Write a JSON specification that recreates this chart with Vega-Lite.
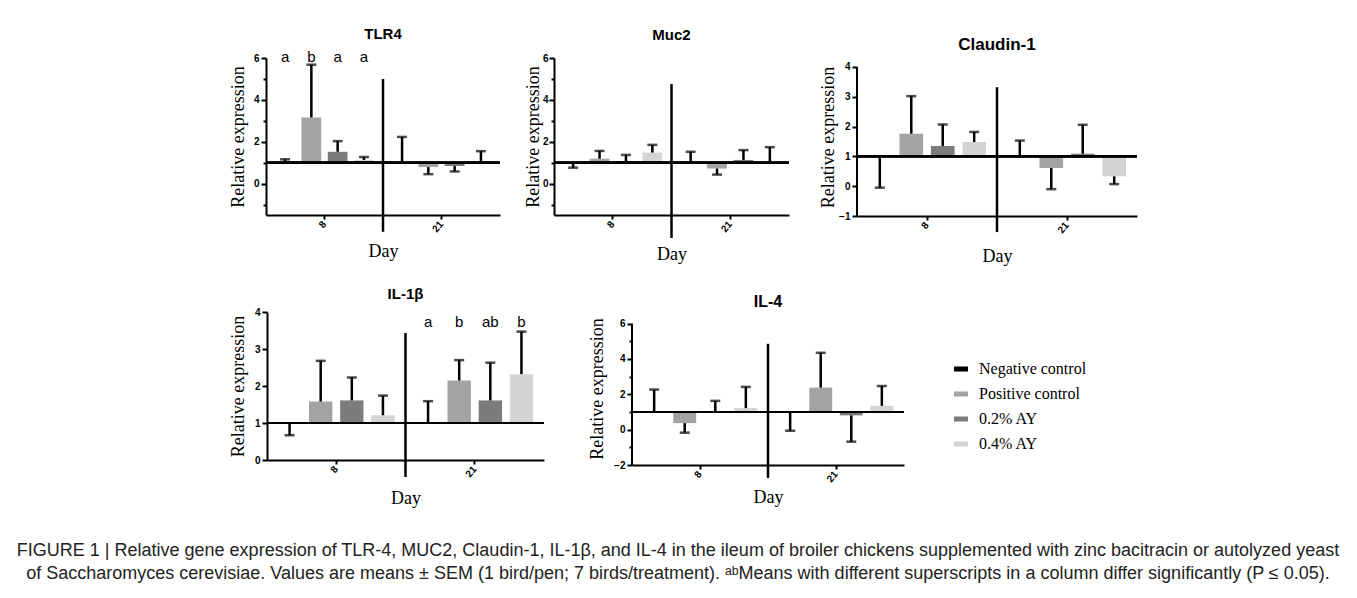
{
  "$schema": "https://vega.github.io/schema/vega-lite/v6.json",
  "background": "white",
  "padding": {"left": 10, "top": 27, "right": 5, "bottom": 2},
  "spacing": 32,
  "resolve": {"scale": {"xOffset": "independent", "y": "independent", "x": "independent"}},
  "vconcat": [
    {
      "spacing": 22,
      "resolve": {"scale": {"xOffset": "independent", "y": "independent", "x": "independent"}},
      "vconcat": [
        {
          "spacing": 22,
          "resolve": {"scale": {"xOffset": "independent", "y": "independent", "x": "independent"}},
          "hconcat": [
            {"width": 196, "height": 10, "data": {"values": []}, "mark": "point"},
            {
              "width": 234, "height": 157,
              "title": {"text": "TLR4", "fontSize": 15, "offset": 8},
              "data": {"values": [
                {"day": "8", "trt": "Negative control", "m": 1.0, "e": 1.16},
                {"day": "8", "trt": "Positive control", "m": 3.16, "e": 5.68},
                {"day": "8", "trt": "0.2% AY", "m": 1.52, "e": 2.03},
                {"day": "8", "trt": "0.4% AY", "m": 1.13, "e": 1.27},
                {"day": "21", "trt": "Negative control", "m": 1.0, "e": 2.23},
                {"day": "21", "trt": "Positive control", "m": 0.79, "e": 0.45},
                {"day": "21", "trt": "0.2% AY", "m": 0.84, "e": 0.58},
                {"day": "21", "trt": "0.4% AY", "m": 1.06, "e": 1.55}
              ]},
              "layer": [
                {
                  "mark": {"type": "bar"},
                  "encoding": {
                    "x": {"field": "day", "type": "nominal", "scale": {"domain": ["8", "21"], "paddingInner": 0, "paddingOuter": 0},
                      "axis": {"title": "Day", "labelAngle": -50, "tickSize": 4, "labelPadding": 3, "titleY": 36, "titleBaseline": "middle"}},
                    "xOffset": {"field": "trt", "type": "nominal", "scale": {"domain": ["Negative control", "Positive control", "0.2% AY", "0.4% AY"], "paddingInner": 0.25, "paddingOuter": 0.35}},
                    "y": {"field": "m", "type": "quantitative", "scale": {"domain": [-1.5, 6], "nice": false, "zero": false},
                      "axis": {"title": "Relative expression", "values": [-1, 0, 1, 2, 3, 4, 5, 6], "tickCount": 20, "format": "d", "labelExpr": "datum.value % 2 === 0 ? datum.label : ''", "labelOverlap": false,
                        "tickSize": {"condition": {"test": "datum.value % 2 === 0", "value": 5}, "value": 3},
                        "titleX": -28, "titleAngle": 270, "titleBaseline": "middle", "titleAlign": "center", "labelPadding": 2}},
                    "y2": {"datum": 1},
                    "color": {"field": "trt", "type": "nominal", "scale": {"domain": ["Negative control", "Positive control", "0.2% AY", "0.4% AY"], "range": ["#000000", "#a3a3a6", "#7c7c7e", "#d4d4d4"]},
                      "legend": {"orient": "none", "legendX": 943, "legendY": 303, "title": null, "symbolType": "M-1,-0.36H1V0.36H-1Z", "symbolSize": 196, "symbolStrokeWidth": 0, "labelFont": "Liberation Serif", "labelFontSize": 16, "labelColor": "#000", "rowPadding": 9, "labelOffset": 10, "padding": 0}}
                  }
                },
                {
                  "mark": {"type": "rule", "strokeWidth": 2.5, "color": "#000"},
                  "encoding": {
                    "x": {"field": "day", "type": "nominal"},
                    "xOffset": {"field": "trt", "type": "nominal"},
                    "y": {"field": "m", "type": "quantitative"},
                    "y2": {"field": "e"}
                  }
                },
                {
                  "mark": {"type": "tick", "orient": "horizontal", "size": 10, "thickness": 2.5, "color": "#000"},
                  "encoding": {
                    "x": {"field": "day", "type": "nominal"},
                    "xOffset": {"field": "trt", "type": "nominal"},
                    "y": {"field": "e", "type": "quantitative"}
                  }
                },
                {
                  "mark": {"type": "rule", "strokeWidth": 1.8, "color": "#000"},
                  "encoding": {"y": {"datum": 1, "type": "quantitative"}}
                },
                {
                  "data": {"values": [{"day": "21", "top": 5.0, "bot": -2.3}]},
                  "mark": {"type": "rule", "strokeWidth": 2.5, "color": "#000"},
                  "encoding": {
                    "x": {"field": "day", "type": "nominal", "bandPosition": 0},
                    "y": {"field": "top", "type": "quantitative"},
                    "y2": {"field": "bot"}
                  }
                },
                {
                  "data": {"values": [
                    {"day": "8", "trt": "Negative control", "lt": "a"},
                    {"day": "8", "trt": "Positive control", "lt": "b"},
                    {"day": "8", "trt": "0.2% AY", "lt": "a"},
                    {"day": "8", "trt": "0.4% AY", "lt": "a"}
                  ]},
                  "mark": {"type": "text", "font": "Liberation Sans", "fontSize": 15, "color": "#000", "baseline": "middle"},
                  "encoding": {
                    "x": {"field": "day", "type": "nominal"},
                    "xOffset": {"field": "trt", "type": "nominal"},
                    "y": {"datum": 6.03, "type": "quantitative"},
                    "text": {"field": "lt"}
                  }
                }
              ]
            },
            {
              "spacing": 28,
              "resolve": {"scale": {"xOffset": "independent", "y": "independent", "x": "independent"}},
              "hconcat": [
                {
                  "width": 235, "height": 157,
                  "title": {"text": "Muc2", "fontSize": 15, "offset": 10},
                  "data": {"values": [
                    {"day": "8", "trt": "Negative control", "m": 0.99, "e": 0.76},
                    {"day": "8", "trt": "Positive control", "m": 1.19, "e": 1.56},
                    {"day": "8", "trt": "0.2% AY", "m": 1.08, "e": 1.37},
                    {"day": "8", "trt": "0.4% AY", "m": 1.48, "e": 1.85},
                    {"day": "21", "trt": "Negative control", "m": 1.04, "e": 1.52},
                    {"day": "21", "trt": "Positive control", "m": 0.72, "e": 0.43},
                    {"day": "21", "trt": "0.2% AY", "m": 1.13, "e": 1.6},
                    {"day": "21", "trt": "0.4% AY", "m": 1.01, "e": 1.74}
                  ]},
                  "layer": [
                    {
                      "mark": {"type": "bar"},
                      "encoding": {
                        "x": {"field": "day", "type": "nominal", "scale": {"domain": ["8", "21"], "paddingInner": 0, "paddingOuter": 0},
                          "axis": {"title": "Day", "labelAngle": -50, "tickSize": 4, "labelPadding": 3, "titleY": 39, "titleBaseline": "middle"}},
                        "xOffset": {"field": "trt", "type": "nominal", "scale": {"domain": ["Negative control", "Positive control", "0.2% AY", "0.4% AY"], "paddingInner": 0.25, "paddingOuter": 0.35}},
                        "y": {"field": "m", "type": "quantitative", "scale": {"domain": [-1.5, 6], "nice": false, "zero": false},
                          "axis": {"title": "Relative expression", "values": [-1, 0, 1, 2, 3, 4, 5, 6], "tickCount": 20, "format": "d", "labelExpr": "datum.value % 2 === 0 ? datum.label : ''", "labelOverlap": false,
                            "tickSize": {"condition": {"test": "datum.value % 2 === 0", "value": 5}, "value": 3},
                            "titleX": -21, "titleAngle": 270, "titleBaseline": "middle", "titleAlign": "center", "labelPadding": 1}},
                        "y2": {"datum": 1},
                        "color": {"field": "trt", "type": "nominal", "scale": {"domain": ["Negative control", "Positive control", "0.2% AY", "0.4% AY"], "range": ["#000000", "#a3a3a6", "#7c7c7e", "#d4d4d4"]},
                          "legend": {"orient": "none", "legendX": 943, "legendY": 303, "title": null, "symbolType": "M-1,-0.36H1V0.36H-1Z", "symbolSize": 196, "symbolStrokeWidth": 0, "labelFont": "Liberation Serif", "labelFontSize": 16, "labelColor": "#000", "rowPadding": 9, "labelOffset": 10, "padding": 0}}
                      }
                    },
                    {
                      "mark": {"type": "rule", "strokeWidth": 2.5, "color": "#000"},
                      "encoding": {
                        "x": {"field": "day", "type": "nominal"},
                        "xOffset": {"field": "trt", "type": "nominal"},
                        "y": {"field": "m", "type": "quantitative"},
                        "y2": {"field": "e"}
                      }
                    },
                    {
                      "mark": {"type": "tick", "orient": "horizontal", "size": 10, "thickness": 2.5, "color": "#000"},
                      "encoding": {
                        "x": {"field": "day", "type": "nominal"},
                        "xOffset": {"field": "trt", "type": "nominal"},
                        "y": {"field": "e", "type": "quantitative"}
                      }
                    },
                    {
                      "mark": {"type": "rule", "strokeWidth": 1.8, "color": "#000"},
                      "encoding": {"y": {"datum": 1, "type": "quantitative"}}
                    },
                    {
                      "data": {"values": [{"day": "21", "top": 4.76, "bot": -2.6}]},
                      "mark": {"type": "rule", "strokeWidth": 2.5, "color": "#000"},
                      "encoding": {
                        "x": {"field": "day", "type": "nominal", "bandPosition": 0},
                        "y": {"field": "top", "type": "quantitative"},
                        "y2": {"field": "bot"}
                      }
                    }
                  ]
                },
                {
                  "width": 280, "height": 158,
                  "title": {"text": "Claudin-1", "fontSize": 17, "offset": 4},
                  "data": {"values": [
                    {"day": "8", "trt": "Negative control", "m": 1.0, "e": -0.05},
                    {"day": "8", "trt": "Positive control", "m": 1.76, "e": 3.02},
                    {"day": "8", "trt": "0.2% AY", "m": 1.35, "e": 2.07},
                    {"day": "8", "trt": "0.4% AY", "m": 1.48, "e": 1.82},
                    {"day": "21", "trt": "Negative control", "m": 1.0, "e": 1.53},
                    {"day": "21", "trt": "Positive control", "m": 0.61, "e": -0.1},
                    {"day": "21", "trt": "0.2% AY", "m": 1.09, "e": 2.06},
                    {"day": "21", "trt": "0.4% AY", "m": 0.33, "e": 0.07}
                  ]},
                  "layer": [
                    {
                      "mark": {"type": "bar"},
                      "encoding": {
                        "x": {"field": "day", "type": "nominal", "scale": {"domain": ["8", "21"], "paddingInner": 0, "paddingOuter": 0},
                          "axis": {"title": "Day", "labelAngle": -50, "tickSize": 4, "labelPadding": 3, "titleY": 40, "titleBaseline": "middle"}},
                        "xOffset": {"field": "trt", "type": "nominal", "scale": {"domain": ["Negative control", "Positive control", "0.2% AY", "0.4% AY"], "paddingInner": 0.25, "paddingOuter": 0.35}},
                        "y": {"field": "m", "type": "quantitative", "scale": {"domain": [-1, 4.3], "nice": false, "zero": false},
                          "axis": {"title": "Relative expression", "values": [-1, 0, 1, 2, 3, 4], "tickCount": 20, "format": "d", "labelOverlap": false, "tickSize": 5, "domain": false,
                            "titleX": -29, "titleAngle": 270, "titleBaseline": "middle", "titleAlign": "center", "labelPadding": 2}},
                        "y2": {"datum": 1},
                        "color": {"field": "trt", "type": "nominal", "scale": {"domain": ["Negative control", "Positive control", "0.2% AY", "0.4% AY"], "range": ["#000000", "#a3a3a6", "#7c7c7e", "#d4d4d4"]},
                          "legend": {"orient": "none", "legendX": 943, "legendY": 303, "title": null, "symbolType": "M-1,-0.36H1V0.36H-1Z", "symbolSize": 196, "symbolStrokeWidth": 0, "labelFont": "Liberation Serif", "labelFontSize": 16, "labelColor": "#000", "rowPadding": 9, "labelOffset": 10, "padding": 0}}
                      }
                    },
                    {
                      "mark": {"type": "rule", "strokeWidth": 2.5, "color": "#000"},
                      "encoding": {
                        "x": {"field": "day", "type": "nominal"},
                        "xOffset": {"field": "trt", "type": "nominal"},
                        "y": {"field": "m", "type": "quantitative"},
                        "y2": {"field": "e"}
                      }
                    },
                    {
                      "mark": {"type": "tick", "orient": "horizontal", "size": 10, "thickness": 2.5, "color": "#000"},
                      "encoding": {
                        "x": {"field": "day", "type": "nominal"},
                        "xOffset": {"field": "trt", "type": "nominal"},
                        "y": {"field": "e", "type": "quantitative"}
                      }
                    },
                    {
                      "mark": {"type": "rule", "strokeWidth": 1.8, "color": "#000"},
                      "encoding": {"y": {"datum": 1, "type": "quantitative"}}
                    },
                    {
                      "data": {"values": [{"day": "21", "top": 3.32, "bot": -1.54}]},
                      "mark": {"type": "rule", "strokeWidth": 2.5, "color": "#000"},
                      "encoding": {
                        "x": {"field": "day", "type": "nominal", "bandPosition": 0},
                        "y": {"field": "top", "type": "quantitative"},
                        "y2": {"field": "bot"}
                      }
                    },
                    {
                      "data": {"values": [{"day": "8", "lo": -1, "hi": 4}]},
                      "mark": {"type": "rule", "strokeWidth": 2, "color": "#000"},
                      "encoding": {
                        "x": {"field": "day", "type": "nominal", "bandPosition": 0},
                        "y": {"field": "lo", "type": "quantitative"},
                        "y2": {"field": "hi"}
                      }
                    }
                  ]
                }
              ]
            }
          ]
        },
        {
          "spacing": 22,
          "resolve": {"scale": {"xOffset": "independent", "y": "independent", "x": "independent"}},
          "hconcat": [
            {"width": 196, "height": 10, "data": {"values": []}, "mark": "point"},
            {
              "spacing": 43,
              "resolve": {"scale": {"xOffset": "independent", "y": "independent", "x": "independent"}},
              "hconcat": [
                {
                  "width": 277, "height": 148,
                  "title": {"text": "IL-1β", "fontSize": 15, "offset": 5},
                  "data": {"values": [
                    {"day": "8", "trt": "Negative control", "m": 0.99, "e": 0.67},
                    {"day": "8", "trt": "Positive control", "m": 1.58, "e": 2.68},
                    {"day": "8", "trt": "0.2% AY", "m": 1.61, "e": 2.23},
                    {"day": "8", "trt": "0.4% AY", "m": 1.21, "e": 1.74},
                    {"day": "21", "trt": "Negative control", "m": 1.0, "e": 1.59},
                    {"day": "21", "trt": "Positive control", "m": 2.15, "e": 2.7},
                    {"day": "21", "trt": "0.2% AY", "m": 1.61, "e": 2.63},
                    {"day": "21", "trt": "0.4% AY", "m": 2.32, "e": 3.47}
                  ]},
                  "layer": [
                    {
                      "mark": {"type": "bar"},
                      "encoding": {
                        "x": {"field": "day", "type": "nominal", "scale": {"domain": ["8", "21"], "paddingInner": 0, "paddingOuter": 0},
                          "axis": {"title": "Day", "labelAngle": -50, "tickSize": 4, "labelPadding": 3, "titleY": 38, "titleBaseline": "middle"}},
                        "xOffset": {"field": "trt", "type": "nominal", "scale": {"domain": ["Negative control", "Positive control", "0.2% AY", "0.4% AY"], "paddingInner": 0.25, "paddingOuter": 0.35}},
                        "y": {"field": "m", "type": "quantitative", "scale": {"domain": [0, 4], "nice": false, "zero": false},
                          "axis": {"title": "Relative expression", "values": [0, 1, 2, 3, 4], "tickCount": 20, "format": "d", "labelOverlap": false, "tickSize": 5,
                            "titleX": -29, "titleAngle": 270, "titleBaseline": "middle", "titleAlign": "center", "labelPadding": 2}},
                        "y2": {"datum": 1},
                        "color": {"field": "trt", "type": "nominal", "scale": {"domain": ["Negative control", "Positive control", "0.2% AY", "0.4% AY"], "range": ["#000000", "#a3a3a6", "#7c7c7e", "#d4d4d4"]},
                          "legend": {"orient": "none", "legendX": 943, "legendY": 303, "title": null, "symbolType": "M-1,-0.36H1V0.36H-1Z", "symbolSize": 196, "symbolStrokeWidth": 0, "labelFont": "Liberation Serif", "labelFontSize": 16, "labelColor": "#000", "rowPadding": 9, "labelOffset": 10, "padding": 0}}
                      }
                    },
                    {
                      "mark": {"type": "rule", "strokeWidth": 2.5, "color": "#000"},
                      "encoding": {
                        "x": {"field": "day", "type": "nominal"},
                        "xOffset": {"field": "trt", "type": "nominal"},
                        "y": {"field": "m", "type": "quantitative"},
                        "y2": {"field": "e"}
                      }
                    },
                    {
                      "mark": {"type": "tick", "orient": "horizontal", "size": 10, "thickness": 2.5, "color": "#000"},
                      "encoding": {
                        "x": {"field": "day", "type": "nominal"},
                        "xOffset": {"field": "trt", "type": "nominal"},
                        "y": {"field": "e", "type": "quantitative"}
                      }
                    },
                    {
                      "mark": {"type": "rule", "strokeWidth": 1.8, "color": "#000"},
                      "encoding": {"y": {"datum": 1, "type": "quantitative"}}
                    },
                    {
                      "data": {"values": [{"day": "21", "top": 3.43, "bot": -0.46}]},
                      "mark": {"type": "rule", "strokeWidth": 2.5, "color": "#000"},
                      "encoding": {
                        "x": {"field": "day", "type": "nominal", "bandPosition": 0},
                        "y": {"field": "top", "type": "quantitative"},
                        "y2": {"field": "bot"}
                      }
                    },
                    {
                      "data": {"values": [
                        {"day": "21", "trt": "Negative control", "lt": "a"},
                        {"day": "21", "trt": "Positive control", "lt": "b"},
                        {"day": "21", "trt": "0.2% AY", "lt": "ab"},
                        {"day": "21", "trt": "0.4% AY", "lt": "b"}
                      ]},
                      "mark": {"type": "text", "font": "Liberation Sans", "fontSize": 15, "color": "#000", "baseline": "middle"},
                      "encoding": {
                        "x": {"field": "day", "type": "nominal"},
                        "xOffset": {"field": "trt", "type": "nominal"},
                        "y": {"datum": 3.72, "type": "quantitative"},
                        "text": {"field": "lt"}
                      }
                    }
                  ]
                },
                {
                  "width": 272, "height": 153,
                  "title": {"text": "IL-4", "fontSize": 16, "offset": 2},
                  "data": {"values": [
                    {"day": "8", "trt": "Negative control", "m": 1.0, "e": 2.27},
                    {"day": "8", "trt": "Positive control", "m": 0.37, "e": -0.17},
                    {"day": "8", "trt": "0.2% AY", "m": 1.0, "e": 1.63},
                    {"day": "8", "trt": "0.4% AY", "m": 1.22, "e": 2.42},
                    {"day": "21", "trt": "Negative control", "m": 1.0, "e": -0.06},
                    {"day": "21", "trt": "Positive control", "m": 2.38, "e": 4.35},
                    {"day": "21", "trt": "0.2% AY", "m": 0.81, "e": -0.68},
                    {"day": "21", "trt": "0.4% AY", "m": 1.35, "e": 2.47}
                  ]},
                  "layer": [
                    {
                      "mark": {"type": "bar"},
                      "encoding": {
                        "x": {"field": "day", "type": "nominal", "scale": {"domain": ["8", "21"], "paddingInner": 0, "paddingOuter": 0},
                          "axis": {"title": "Day", "labelAngle": -50, "tickSize": 4, "labelPadding": 3, "titleY": 32, "titleBaseline": "middle"}},
                        "xOffset": {"field": "trt", "type": "nominal", "scale": {"domain": ["Negative control", "Positive control", "0.2% AY", "0.4% AY"], "paddingInner": 0.25, "paddingOuter": 0.35}},
                        "y": {"field": "m", "type": "quantitative", "scale": {"domain": [-2, 6.66], "nice": false, "zero": false},
                          "axis": {"title": "Relative expression", "values": [-2, -1, 0, 1, 2, 3, 4, 5, 6], "tickCount": 20, "format": "d", "labelExpr": "datum.value % 2 === 0 ? datum.label : ''", "labelOverlap": false, "domain": false,
                            "tickSize": {"condition": {"test": "datum.value % 2 === 0", "value": 5}, "value": 3},
                            "titleX": -35, "titleAngle": 270, "titleBaseline": "middle", "titleAlign": "center", "labelPadding": 2}},
                        "y2": {"datum": 1},
                        "color": {"field": "trt", "type": "nominal", "scale": {"domain": ["Negative control", "Positive control", "0.2% AY", "0.4% AY"], "range": ["#000000", "#a3a3a6", "#7c7c7e", "#d4d4d4"]},
                          "legend": {"orient": "none", "legendX": 943, "legendY": 303, "title": null, "symbolType": "M-1,-0.36H1V0.36H-1Z", "symbolSize": 196, "symbolStrokeWidth": 0, "labelFont": "Liberation Serif", "labelFontSize": 16, "labelColor": "#000", "rowPadding": 9, "labelOffset": 10, "padding": 0}}
                      }
                    },
                    {
                      "mark": {"type": "rule", "strokeWidth": 2.5, "color": "#000"},
                      "encoding": {
                        "x": {"field": "day", "type": "nominal"},
                        "xOffset": {"field": "trt", "type": "nominal"},
                        "y": {"field": "m", "type": "quantitative"},
                        "y2": {"field": "e"}
                      }
                    },
                    {
                      "mark": {"type": "tick", "orient": "horizontal", "size": 10, "thickness": 2.5, "color": "#000"},
                      "encoding": {
                        "x": {"field": "day", "type": "nominal"},
                        "xOffset": {"field": "trt", "type": "nominal"},
                        "y": {"field": "e", "type": "quantitative"}
                      }
                    },
                    {
                      "mark": {"type": "rule", "strokeWidth": 1.8, "color": "#000"},
                      "encoding": {"y": {"datum": 1, "type": "quantitative"}}
                    },
                    {
                      "data": {"values": [{"day": "21", "top": 4.86, "bot": -2.74}]},
                      "mark": {"type": "rule", "strokeWidth": 2.5, "color": "#000"},
                      "encoding": {
                        "x": {"field": "day", "type": "nominal", "bandPosition": 0},
                        "y": {"field": "top", "type": "quantitative"},
                        "y2": {"field": "bot"}
                      }
                    },
                    {
                      "data": {"values": [{"day": "8", "lo": -2, "hi": 6}]},
                      "mark": {"type": "rule", "strokeWidth": 2, "color": "#000"},
                      "encoding": {
                        "x": {"field": "day", "type": "nominal", "bandPosition": 0},
                        "y": {"field": "lo", "type": "quantitative"},
                        "y2": {"field": "hi"}
                      }
                    }
                  ]
                }
              ]
            }
          ]
        }
      ]
    },
    {
      "width": 1336, "height": 46,
      "data": {"values": [
        {"line": 1, "text": "FIGURE 1 | Relative gene expression of TLR-4, MUC2, Claudin-1, IL-1β, and IL-4 in the ileum of broiler chickens supplemented with zinc bacitracin or autolyzed yeast"},
        {"line": 2, "text": "of Saccharomyces cerevisiae. Values are means ± SEM (1 bird/pen; 7 birds/treatment). ᵃᵇMeans with different superscripts in a column differ significantly (P ≤ 0.05)."}
      ]},
      "mark": {"type": "text", "font": "Liberation Sans", "fontSize": 18, "color": "#222"},
      "encoding": {
        "y": {"field": "line", "type": "ordinal", "axis": null},
        "text": {"field": "text"}
      }
    }
  ],
  "config": {
    "view": {"stroke": null},
    "axis": {"domainColor": "#000", "domainWidth": 2, "tickColor": "#000", "tickWidth": 2, "labelColor": "#000", "labelFont": "Liberation Sans", "labelFontWeight": "bold", "labelFontSize": 10, "titleFont": "Liberation Serif", "titleFontWeight": "normal", "titleFontSize": 18, "titleColor": "#000", "grid": false},
    "title": {"font": "Liberation Sans", "fontWeight": "bold", "color": "#000"}
  }
}
